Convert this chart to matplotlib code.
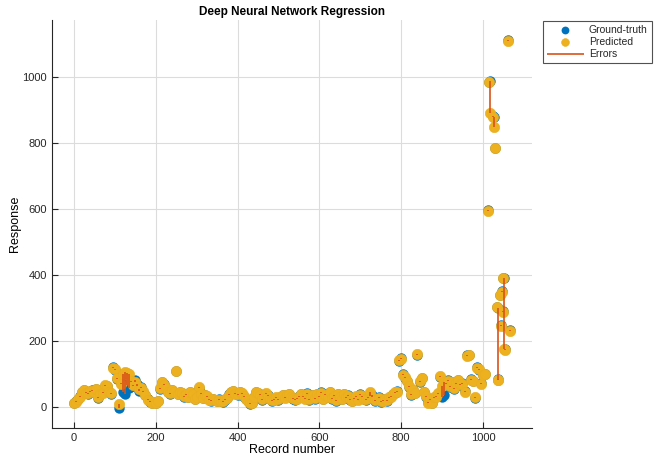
import numpy as np
import matplotlib.pyplot as plt

plt.rcParams['font.family'] = ['Liberation Sans', 'DejaVu Sans']

# record numbers, ground-truth response and predicted response
record = [0, 5, 10, 15, 20, 25, 30, 35, 40, 45,
          50, 55, 60, 65, 70, 75, 80, 85, 90, 95,
          100, 105, 110, 115, 120, 125, 130, 135, 140, 145,
          150, 155, 160, 165, 170, 175, 180, 185, 190, 195,
          200, 205, 210, 215, 220, 225, 230, 235, 240, 245,
          250, 255, 260, 265, 270, 275, 280, 285, 290, 295,
          300, 305, 310, 315, 320, 325, 330, 335, 340, 345,
          350, 355, 360, 365, 370, 375, 380, 385, 390, 395,
          400, 405, 410, 415, 420, 425, 430, 435, 440, 445,
          450, 455, 460, 465, 470, 475, 480, 485, 490, 495,
          500, 505, 510, 515, 520, 525, 530, 535, 540, 545,
          550, 555, 560, 565, 570, 575, 580, 585, 590, 595,
          600, 605, 610, 615, 620, 625, 630, 635, 640, 645,
          650, 655, 660, 665, 670, 675, 680, 685, 690, 695,
          700, 705, 710, 715, 720, 725, 730, 735, 740, 745,
          750, 755, 760, 765, 770, 775, 780, 785, 790, 795,
          800, 805, 810, 815, 820, 825, 830, 835, 840, 845,
          850, 855, 860, 865, 870, 875, 880, 885, 890, 895,
          900, 905, 910, 915, 920, 925, 930, 935, 940, 945,
          950, 955, 960, 965, 970, 975, 980, 985, 990, 995,
          1000, 1005, 1013, 1016, 1018, 1025, 1027, 1030, 1034, 1036,
          1038, 1041, 1044, 1047, 1049, 1050, 1052, 1053, 1061, 1066]

ground_truth = [10, 16, 22, 32, 46, 50, 44, 40, 46, 50,
                44, 54, 26, 40, 44, 64, 62, 46, 40, 120,
                112, 85, -5, 72, 46, 40, 67, 58, 75, 62,
                80, 68, 48, 60, 45, 36, 22, 15, 10, 14,
                12, 18, 55, 76, 68, 58, 46, 40, 52, 44,
                108, 38, 46, 42, 30, 36, 28, 45, 38, 22,
                30, 58, 42, 26, 36, 30, 22, 18, 24, 20,
                16, 22, 18, 14, 20, 26, 38, 44, 48, 42,
                36, 46, 40, 30, 24, 16, 8, 12, 30, 46,
                42, 38, 20, 28, 40, 34, 24, 18, 22, 26,
                20, 30, 34, 28, 36, 38, 30, 24, 20, 26,
                32, 40, 30, 26, 42, 20, 28, 36, 24, 40,
                30, 44, 22, 38, 28, 46, 24, 34, 18, 38,
                30, 22, 40, 26, 34, 20, 16, 26, 30, 22,
                38, 30, 24, 20, 28, 32, 34, 18, 22, 28,
                14, 20, 24, 18, 26, 32, 38, 42, 48, 140,
                148, 100, 88, 78, 60, 36, 52, 42, 158, 76,
                88, 46, 30, 14, 20, 10, 26, 32, 40, 90,
                30, 36, 72, 80, 60, 76, 54, 70, 82, 66,
                72, 48, 156, 158, 84, 78, 26, 120, 112, 72,
                96, 100, 598, 986, 988, 882, 880, 786, 304, 300,
                84, 340, 248, 350, 290, 392, 390, 175, 1112, 232]

predicted = [12, 15, 24, 30, 45, 52, 42, 41, 48, 48,
             46, 55, 28, 38, 42, 65, 64, 44, 42, 118,
             113, 87, 8, 70, 100, 104, 103, 100, 78, 66,
             74, 64, 55, 58, 48, 34, 20, 16, 12, 13,
             12, 17, 57, 75, 66, 56, 45, 43, 50, 46,
             109, 40, 45, 43, 32, 38, 30, 44, 40, 24,
             28, 60, 40, 27, 35, 32, 20, 20, 22, 21,
             18, 20, 17, 16, 22, 25, 36, 46, 47, 40,
             38, 44, 41, 32, 22, 18, 10, 11, 28, 45,
             43, 36, 22, 30, 41, 33, 22, 20, 21, 28,
             22, 29, 36, 27, 34, 40, 28, 26, 22, 24,
             30, 38, 32, 24, 40, 22, 30, 34, 26, 38,
             32, 42, 24, 36, 30, 44, 26, 33, 20, 40,
             28, 24, 38, 28, 32, 22, 18, 24, 32, 20,
             36, 32, 22, 22, 26, 44, 30, 20, 24, 26,
             16, 18, 22, 20, 28, 30, 40, 44, 46, 142,
             145, 97, 90, 77, 62, 38, 50, 41, 160, 78,
             86, 44, 32, 12, 22, 12, 28, 30, 42, 92,
             62, 76, 70, 78, 62, 74, 56, 72, 80, 68,
             70, 46, 155, 157, 82, 77, 28, 118, 114, 70,
             97, 98, 595, 984, 892, 880, 848, 784, 302, 82,
             82, 338, 246, 348, 288, 390, 175, 173, 1110, 230]

x = np.array(record)
gt = np.array(ground_truth)
pr = np.array(predicted)

fig = plt.figure(figsize=(6.56, 4.58), dpi=100)
ax = fig.add_axes([0.079, 0.066, 0.732, 0.89])

ax.scatter(x, gt, s=56, color='#0072BD', linewidths=0, label='Ground-truth', zorder=2)
ax.scatter(x, pr, s=56, facecolor='#EDB120', edgecolor='#E8AC1E', linewidths=0.4,
           label='Predicted', zorder=3)
ax.vlines(x, gt, pr, color='#D95319', linewidth=1.2, label='Errors', zorder=4)

ax.set_xlim(-54, 1120)
ax.set_ylim(-64, 1173)
ax.set_xticks([0, 200, 400, 600, 800, 1000])
ax.set_yticks([0, 200, 400, 600, 800, 1000])
ax.grid(True, color='#dcdcdc', linewidth=0.8)
ax.set_axisbelow(True)
for s in ['top', 'right']:
    ax.spines[s].set_visible(False)
for s in ['left', 'bottom']:
    ax.spines[s].set_color('#262626')
    ax.spines[s].set_linewidth(0.8)
ax.tick_params(direction='in', length=4, labelsize=8, colors='#262626')

ax.set_title('Deep Neural Network Regression', fontsize=8.5, fontweight='bold', pad=4)
ax.set_xlabel('Record number', fontsize=9, labelpad=1)
ax.set_ylabel('Response', fontsize=9, labelpad=1)

leg = ax.legend(loc='upper left', bbox_to_anchor=(1.023, 0.998), borderaxespad=0,
                fontsize=7.5, frameon=True, fancybox=False, edgecolor='#262626',
                borderpad=0.4, handlelength=3.5, labelspacing=0.2,
                markerscale=0.75, handletextpad=0.5)
leg.get_frame().set_linewidth(0.8)
for t in leg.get_texts():
    t.set_color('#262626')

plt.savefig('out.png', dpi=100)
